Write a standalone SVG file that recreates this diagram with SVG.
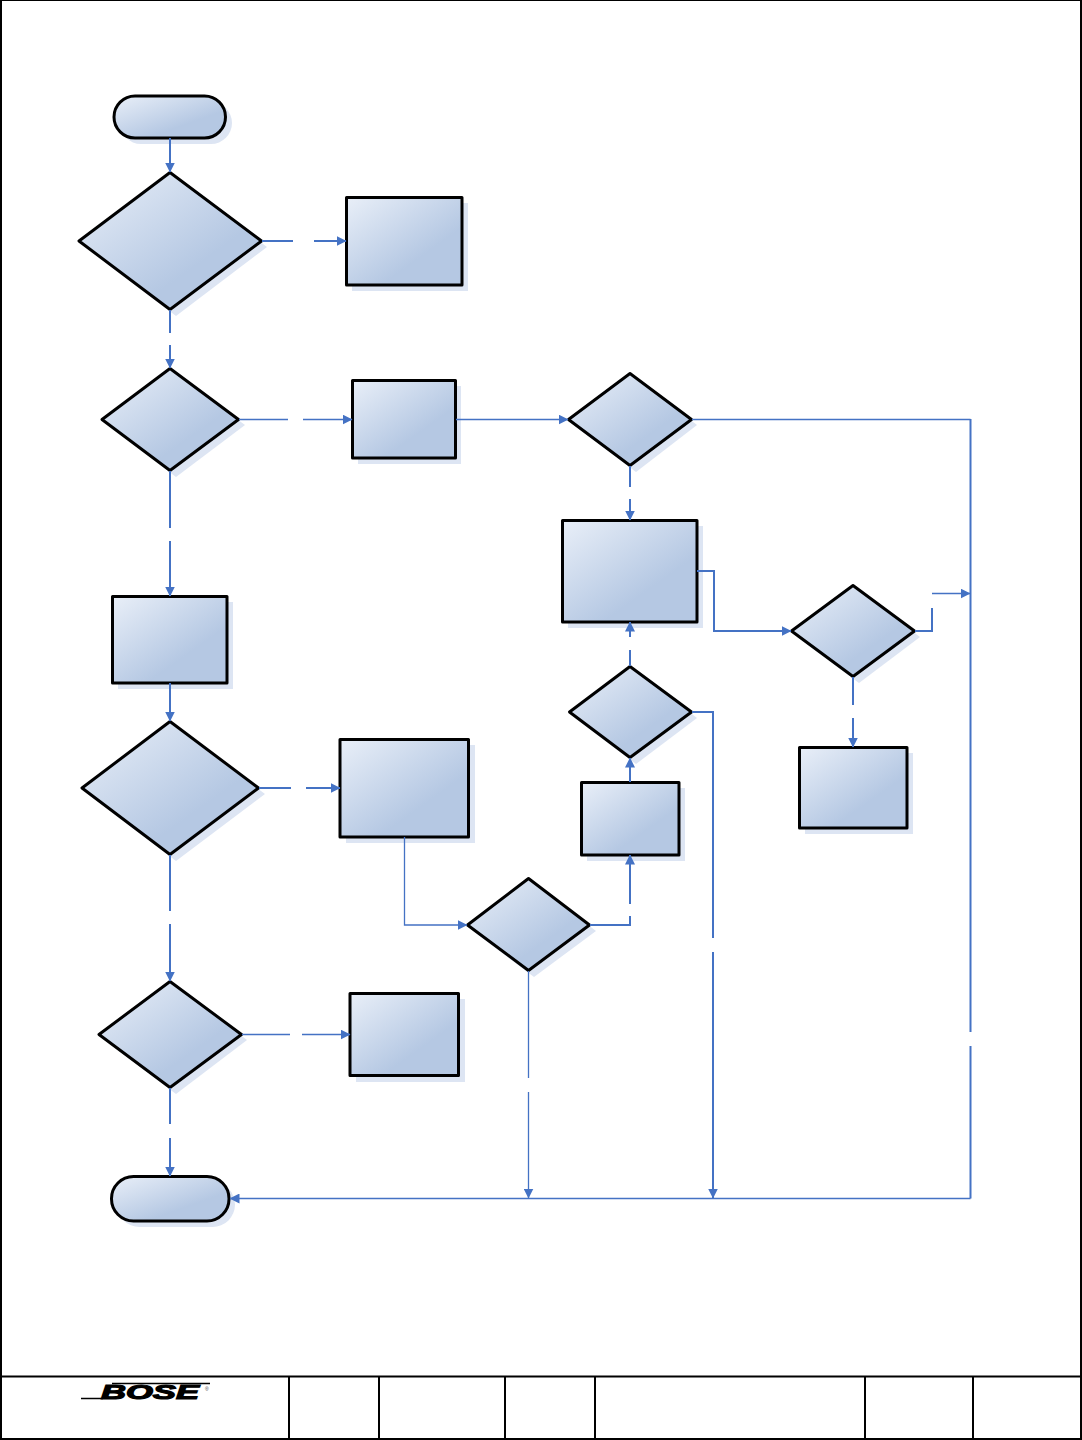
<svg xmlns="http://www.w3.org/2000/svg" width="1082" height="1440" viewBox="0 0 1082 1440">
<style>
.n{fill:url(#g);stroke:#000;stroke-width:3;stroke-linejoin:round}
.s{fill:#dde5f3;stroke:none}
.c{fill:none;stroke:#4472c4;stroke-width:2}
.t{fill:none;stroke:#4472c4;stroke-width:1.300}
.a{marker-end:url(#m)}
.f{stroke:#000;stroke-width:2;fill:none}
</style>
<defs>
<linearGradient id="g" x1="0" y1="0" x2="0.8" y2="0.85">
<stop offset="0" stop-color="#e9eff8"/><stop offset="0.8" stop-color="#b5c8e3"/>
</linearGradient>
<marker id="m" markerUnits="userSpaceOnUse" markerWidth="10" markerHeight="10" refX="9.500" refY="5" orient="auto">
<path d="M0,0 L10,5 L0,10 Z" fill="#4472c4"/>
</marker>
</defs>
<rect width="1082" height="1440" fill="#fff"/>
<g id="frame">
<path class="f" d="M1,0V1439H1081V0H1M1,1376.500H1081M289,1376V1439M379,1376V1439M505,1376V1439M595,1376V1439M865,1376V1439M973,1376V1439"/>
</g>
<g id="logo">
<text x="101" y="1399" font-family="Liberation Sans, sans-serif" font-weight="700" font-style="italic" font-size="21" textLength="98" lengthAdjust="spacingAndGlyphs" fill="#000" stroke="#000" stroke-width="1.200">BOSE</text>
<path d="M81,1398.500H103M112,1383.500H210" stroke="#000" stroke-width="1.500"/>
<text x="205" y="1391" font-family="Liberation Sans, sans-serif" font-size="5" fill="#444">®</text>
</g>
<g id="start"><rect class="s" x="120" y="102" width="112" height="42" rx="21"/><rect class="n" x="114" y="96" width="111.500" height="42" rx="21"/></g>
<g id="d1"><path class="s" d="M176,178L267,247L176,316L85,247Z"/><path class="n" d="M170,172.500L261.500,241L170,309.500L79,241Z"/></g>
<g id="r1"><rect class="s" x="352" y="203" width="116" height="88"/><rect class="n" x="346.500" y="197.500" width="115.500" height="87.500"/></g>
<g id="d2"><path class="s" d="M176,374L245,425L176,477L108,425Z"/><path class="n" d="M170,368.500L238.500,419.500L170,470.500L102,419.500Z"/></g>
<g id="r2"><rect class="s" x="358" y="386" width="103" height="78"/><rect class="n" x="352.500" y="380.500" width="103" height="77.500"/></g>
<g id="d3"><path class="s" d="M636,379L697,425L636,472L574,425Z"/><path class="n" d="M630,373.500L691.500,419.500L630,465.500L568.500,419.500Z"/></g>
<g id="r3"><rect class="s" x="568" y="526" width="135" height="102"/><rect class="n" x="562.500" y="520.500" width="134.500" height="101.500"/></g>
<g id="r4"><rect class="s" x="118" y="602" width="115" height="87"/><rect class="n" x="112.500" y="596.500" width="114.500" height="86.500"/></g>
<g id="d4"><path class="s" d="M176,727L265,794L176,861L88,794Z"/><path class="n" d="M170,721.500L258.500,788L170,854.500L82,788Z"/></g>
<g id="r5"><rect class="s" x="346" y="745" width="129" height="98"/><rect class="n" x="340" y="739.500" width="128.500" height="97.500"/></g>
<g id="d5"><path class="s" d="M534,884L596,931L534,977L473,931Z"/><path class="n" d="M528.500,878.500L589.500,925L528.500,970.500L467.500,925Z"/></g>
<g id="r7"><rect class="s" x="587" y="788" width="98" height="73"/><rect class="n" x="581.500" y="782.500" width="97.500" height="72.500"/></g>
<g id="d7"><path class="s" d="M636,672L697,718L636,764L575,718Z"/><path class="n" d="M630,666.500L691.500,712L630,757.500L569.500,712Z"/></g>
<g id="d8"><path class="s" d="M859,591L920,637L859,683L797,637Z"/><path class="n" d="M853,585.500L914.500,631L853,676.500L791.500,631Z"/></g>
<g id="r8"><rect class="s" x="805" y="753" width="108" height="81"/><rect class="n" x="799.500" y="747.500" width="107.500" height="80.500"/></g>
<g id="d6"><path class="s" d="M176,987L247,1040L176,1094L105,1040Z"/><path class="n" d="M170,981.500L241.500,1034.500L170,1087.500L99,1034.500Z"/></g>
<g id="r6"><rect class="s" x="356" y="999" width="109" height="83"/><rect class="n" x="350" y="993.500" width="108.500" height="82"/></g>
<g id="end"><rect class="s" x="117" y="1182" width="118" height="45" rx="22.500"/><rect class="n" x="111.500" y="1176.500" width="117.500" height="44.500" rx="22"/></g>
<g id="connectors">
<path class="c a" d="M170,138V172"/>
<path class="c" d="M262,241H293"/><path class="c a" d="M314,241H346"/>
<path class="c" d="M170,310V333"/><path class="c a" d="M170,345V368"/>
<path class="t" d="M239,419.500H288"/><path class="t a" d="M303,419.500H352"/>
<path class="t a" d="M456,419.500H568"/>
<path class="t" d="M692,419.500H970.500"/><path class="c" d="M970.500,419V1032M970.500,1046V1198.500"/><path class="t a" d="M970.500,1198.500H230"/>
<path class="c" d="M630,466V487"/><path class="c a" d="M630,499V520"/>
<path class="c" d="M170,471V528"/><path class="c a" d="M170,541V596"/>
<path class="c a" d="M170,683V721"/>
<path class="c" d="M259,788H291"/><path class="c a" d="M306,788H340"/>
<path class="t a" d="M404.500,837V925H467"/>
<path class="c" d="M590,925H630V916"/><path class="c a" d="M630,904V855"/>
<path class="c" d="M170,855V911"/><path class="c a" d="M170,924V981"/>
<path class="t" d="M242,1034.500H290"/><path class="t a" d="M302,1034.500H350"/>
<path class="c" d="M170,1088V1124"/><path class="c a" d="M170,1138V1176"/>
<path class="t" d="M528.500,971V1078"/><path class="t a" d="M528.500,1092V1198"/>
<path class="c a" d="M630,782V758"/>
<path class="c" d="M630,666V650"/><path class="c a" d="M630,637V622"/>
<path class="c" d="M692,712H713V938"/><path class="c a" d="M713,952V1198"/>
<path class="c a" d="M697,571H714V631H791"/>
<path class="c" d="M915,631H932V608"/><path class="t a" d="M932,593.500H970"/>
<path class="c" d="M853,677V705"/><path class="c a" d="M853,718V747"/>
</g>
</svg>
